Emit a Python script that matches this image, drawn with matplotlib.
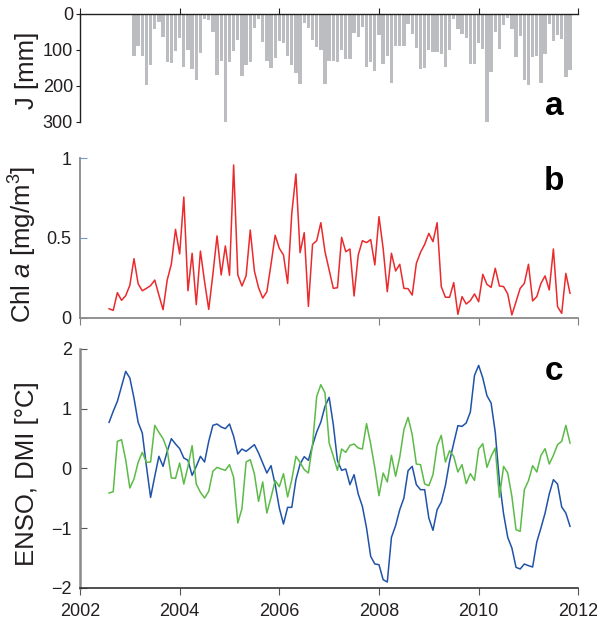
import matplotlib
matplotlib.use('Agg')
import matplotlib.pyplot as plt
import numpy as np

plt.rcParams['font.family'] = ['Liberation Sans', 'DejaVu Sans']
plt.rcParams['mathtext.fontset'] = 'custom'
plt.rcParams['mathtext.rm'] = 'Liberation Sans'
plt.rcParams['mathtext.it'] = 'Liberation Sans:italic'

# ---- data ----
# monthly rainfall J [mm], Jan/Feb 2003 .. Oct 2011
J = [118, 88, 116, 196, 141, 41, 21, 63, 132, 135, 102, 66, 146, 99, 152, 182, 109, 13,
     16, 50, 169, 130, 307, 132, 103, 72, 171, 141, 132, 38, 13, 78, 130, 149, 121, 74,
     81, 118, 141, 163, 194, 24, 39, 72, 91, 99, 194, 130, 130, 132, 99, 124, 124, 52,
     63, 36, 146, 132, 157, 57, 138, 116, 191, 88, 88, 88, 27, 55, 94, 152, 149, 99,
     105, 105, 110, 146, 99, 13, 41, 55, 66, 138, 138, 81, 96, 304, 162, 51, 96, 30,
     11, 43, 119, 62, 182, 198, 119, 116, 191, 110, 29, 74, 59, 69, 174, 155]

# monthly Chl a [mg/m3], Aug 2002 .. Nov 2011
chl = [0.056, 0.046, 0.157, 0.109, 0.138, 0.203, 0.370, 0.213, 0.169, 0.184, 0.201, 0.236,
       0.142, 0.050, 0.236, 0.337, 0.554, 0.400, 0.757, 0.169, 0.404, 0.082, 0.418, 0.226,
       0.052, 0.272, 0.513, 0.268, 0.450, 0.266, 0.958, 0.268, 0.199, 0.262, 0.550,
       0.293, 0.188, 0.123, 0.163, 0.335, 0.517, 0.435, 0.393, 0.215, 0.655, 0.902, 0.408,
       0.533, 0.071, 0.460, 0.483, 0.596, 0.414, 0.299, 0.184, 0.188, 0.504, 0.414, 0.431,
       0.136, 0.393, 0.483, 0.471, 0.490, 0.331, 0.634, 0.435, 0.163, 0.404, 0.293, 0.335,
       0.184, 0.182, 0.142, 0.341, 0.410,
       0.460, 0.529, 0.477, 0.596, 0.195, 0.128, 0.128, 0.220, 0.021, 0.132, 0.086, 0.107,
       0.149, 0.100, 0.272, 0.209, 0.190, 0.310, 0.199, 0.195, 0.149, 0.017, 0.100, 0.184,
       0.215, 0.335, 0.105, 0.132, 0.215, 0.262, 0.174, 0.431, 0.069, 0.027, 0.278, 0.153]

enso = [0.769, 0.953, 1.120, 1.370, 1.621, 1.510, 1.175, 0.769, 0.591, 0.033, -0.485, -0.134,
        0.201, 0.033, 0.284, 0.496, 0.407, 0.329, 0.173, 0.134, -0.117, 0.033, 0.201, 0.106,
        0.451, 0.719, 0.741, 0.691, 0.663, 0.741, 0.535, 0.240, 0.323, 0.284, 0.340,
        0.396, 0.256, 0.089, -0.078, 0.045, -0.273, -0.663, -0.930, -0.652, -0.652, -0.189,
        0.072, 0.195, 0.134, 0.384, 0.607, 0.774, 1.036, 1.187, 0.730, 0.128, -0.033, -0.011,
        -0.273, -0.106, -0.429, -0.635, -0.997, -1.471, -1.599, -1.610, -1.861, -1.900,
        -1.153, -0.958, -0.691, -0.496, -0.039, 0.033, -0.273, -0.357,
        -0.357, -0.830, -1.036, -0.691, -0.563, -0.284, 0.117, 0.423, 0.713, 0.702, 0.758,
        0.942, 1.554, 1.721, 1.510, 1.214, 1.092, 0.602, -0.217, -0.758, -1.153, -1.331,
        -1.655, -1.682, -1.599, -1.627, -1.649, -1.231, -0.997, -0.747, -0.429, -0.189,
        -0.262, -0.646, -0.747, -0.969]

dmi = [-0.412, -0.390, 0.451, 0.479, 0.145, -0.329, -0.178, 0.100, 0.267, 0.100, 0.106, 0.719,
       0.602, 0.496, 0.312, -0.162, -0.167, 0.089, -0.262, 0.033, 0.379, -0.262, -0.401,
       -0.496, -0.384, -0.050, 0.017, -0.011, -0.033, 0.061, -0.150, -0.914, -0.674, 0.106,
       0.145,
       -0.095, -0.552, -0.228, -0.747, -0.485, -0.206, -0.306, -0.089, -0.479, -0.189, 0.201,
       0.100, -0.022, -0.078, 0.396, 1.203, 1.398, 1.259, 0.423, 0.201, -0.033, 0.323, 0.267,
       0.384, 0.407, 0.340, 0.323, 0.747, 0.407, 0.006, -0.457, -0.078, -0.228, 0.217, -0.134,
       0.189, 0.646, 0.852, 0.563, 0.072, 0.061,
       -0.262, -0.290, -0.106, 0.379, 0.552, 0.106, 0.295, 0.201, -0.061, 0.061, -0.256,
       -0.089, -0.201, 0.323, 0.412, 0.017, 0.201, 0.340, -0.485, 0.033, -0.078, -0.468,
       -1.025, -1.053, -0.357, -0.206, 0.045, -0.061, 0.217, 0.329, 0.072, 0.217, 0.396,
       0.451, 0.719, 0.423]

year_ticks = [2002, 2004, 2006, 2008, 2010, 2012]

t_bar = 2003 + (np.arange(len(J)) + 1) / 12.0
t = 2002 + 7 / 12.0 + np.arange(len(chl)) / 12.0

fig = plt.figure(figsize=(5.97, 6.24), dpi=100)

L, W = 0.1340, 0.8347
TICK_FS = 13
LAB_FS = 18.5
LAB_X = -0.082
txtc = '#231f20'

# ---- panel a ----
axA = fig.add_axes([L, 0.8045, W, 0.1731])
axA.bar(t_bar, J, width=0.8 / 12, color='#bcbdc0', linewidth=0)
axA.set_xlim(2002, 2012)
axA.set_ylim(300, 0)
axA.set_yticks([0, 100, 200, 300])
axA.set_xticks(year_ticks)
axA.xaxis.set_ticks_position('top')
axA.tick_params(axis='x', direction='out', length=4, labeltop=False, labelbottom=False,
                color='#231f20')
axA.tick_params(axis='y', direction='out', length=3, pad=2, labelsize=TICK_FS,
                labelcolor=txtc, color='#231f20')
for s in ['right', 'bottom']:
    axA.spines[s].set_visible(False)
for s in ['top', 'left']:
    axA.spines[s].set_color('#231f20')
    axA.spines[s].set_linewidth(1.0)
axA.set_ylabel('J [mm]', fontsize=LAB_FS, color=txtc)
axA.yaxis.set_label_coords(LAB_X, 0.4815)

# ---- panel b ----
axB = fig.add_axes([L, 0.4909, W, 0.2554])
axB.plot(t, chl, color='#ea2a2c', linewidth=1.1)
axB.set_xlim(2002, 2012)
axB.set_ylim(0, 1)
axB.set_yticks([0, 0.5, 1])
axB.set_yticklabels(['0', '0.5', '1'])
axB.set_xticks(year_ticks)
axB.tick_params(axis='x', direction='out', length=5, labelbottom=False, color='#7f7f7f')
axB.tick_params(axis='y', direction='in', length=5, pad=6, labelsize=TICK_FS,
                labelcolor=txtc, color='#6f9bd1')
for s in ['right', 'top']:
    axB.spines[s].set_visible(False)
for s in ['left', 'bottom']:
    axB.spines[s].set_color('#8a8a8a')
    axB.spines[s].set_linewidth(1.3)
axB.set_ylabel(r'Chl $\mathit{a}$ [mg/m$^3$]', fontsize=LAB_FS, color=txtc)
axB.yaxis.set_label_coords(LAB_X, 0.4624)

# ---- panel c ----
axC = fig.add_axes([L, 0.0577, W, 0.3835])
axC.plot(t, enso, color='#2053a8', linewidth=1.1)
axC.plot(t, dmi, color='#5cbb47', linewidth=1.1)
axC.set_xlim(2002, 2012)
axC.set_ylim(-2, 2)
axC.set_yticks([-2, -1, 0, 1, 2])
axC.set_xticks(year_ticks)
axC.tick_params(axis='x', direction='out', length=5, pad=6, labelsize=TICK_FS,
                labelcolor=txtc, color='#555555')
axC.tick_params(axis='y', direction='in', length=5, pad=6, labelsize=TICK_FS,
                labelcolor=txtc, color='#555555')
for s in ['right', 'top']:
    axC.spines[s].set_visible(False)
axC.spines['left'].set_color('#8a8a8a')
axC.spines['left'].set_linewidth(1.8)
axC.spines['bottom'].set_color('#333333')
axC.spines['bottom'].set_linewidth(1.2)
axC.set_ylabel('ENSO, DMI [°C]', fontsize=LAB_FS, color=txtc)
axC.yaxis.set_label_coords(LAB_X, 0.4764)

# ---- panel letters ----
for letter, yb in [('a', 115), ('b', 190), ('c', 380)]:
    fig.text(554 / 597, 1 - yb / 624, letter, fontsize=24, fontweight='bold',
             ha='center', va='baseline', color='black')

fig.savefig('out.png', dpi=100)
